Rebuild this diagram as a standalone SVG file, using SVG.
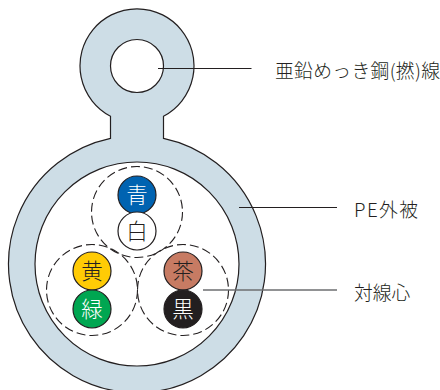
<svg xmlns="http://www.w3.org/2000/svg" width="440" height="390" viewBox="0 0 440 390">
<style>
.o{stroke:#231f20;stroke-width:1.200}
.d{fill:none;stroke:#231f20;stroke-width:1.100;stroke-dasharray:9 4}
.l{fill:none;stroke:#231f20;stroke-width:1}
text{font-family:"Noto Sans CJK JP","Noto Sans",sans-serif;font-weight:300}
.c{font-size:21.500px;text-anchor:middle}
.b{fill:#231f20}.w{fill:#fff}
.t{font-size:18.800px;fill:#231f20}
</style>
<g id="sheath">
<path class="o" fill="#cddde6" d="M110.500 116.300A57 57 0 1 1 163.500 116.300V138.400A128.500 128.500 0 1 1 110.500 138.400Z"/>
<circle class="o" fill="#fff" cx="137" cy="66" r="26.500"/>
<circle class="o" fill="#fff" cx="137" cy="264" r="102"/>
</g>
<g id="pair-top">
<circle class="d" cx="137" cy="212" r="45.500"/>
<g id="core-blue"><circle class="o" fill="#0063b1" cx="137" cy="195" r="19"/><text class="c w" x="137" y="202.500">青</text></g>
<g id="core-white"><circle class="o" fill="#fff" cx="137" cy="231" r="19"/><text class="c b" x="137" y="238.500">白</text></g>
</g>
<g id="pair-left">
<circle class="d" cx="92" cy="290" r="45.500"/>
<g id="core-yellow"><circle class="o" fill="#ffcb05" cx="92" cy="271" r="19"/><text class="c b" x="92" y="278.500">黄</text></g>
<g id="core-green"><circle class="o" fill="#00a651" cx="92" cy="309" r="19"/><text class="c w" x="92" y="316.500">緑</text></g>
</g>
<g id="pair-right">
<circle class="d" cx="183" cy="290" r="45.500"/>
<g id="core-brown"><circle class="o" fill="#c77b63" cx="183" cy="271" r="19"/><text class="c b" x="183" y="278.500">茶</text></g>
<g id="core-black"><circle class="o" fill="#231f20" cx="183" cy="309" r="19"/><text class="c w" x="183" y="316.500">黒</text></g>
</g>
<g id="connectors">
<path class="l" d="M158 68.500H251.500"/>
<path class="l" d="M239 207.500H337"/>
<path fill="none" stroke="#6d6e71" stroke-width="1.300" d="M203 290H337"/>
</g>
<g id="labels">
<text class="t" x="275" y="78" textLength="165" lengthAdjust="spacing">亜鉛めっき鋼(撚)線</text>
<text class="t" x="354" y="217" textLength="64" lengthAdjust="spacing">PE外被</text>
<text class="t" x="354" y="300">対線心</text>
</g>
</svg>
